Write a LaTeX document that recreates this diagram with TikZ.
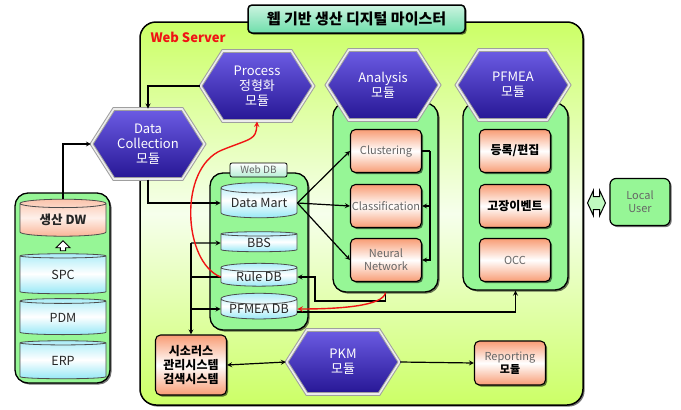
\documentclass[tikz,border=0pt]{standalone}
\usepackage{fontspec}
\setmainfont{Noto Sans CJK KR}
\usetikzlibrary{shapes.geometric,shapes.symbols,shapes.arrows,shadows}

\definecolor{limegr}{RGB}{204,255,102}
\definecolor{palegr}{RGB}{246,255,236}
\definecolor{boxgr}{RGB}{150,246,150}
\definecolor{salmon}{RGB}{248,156,116}
\definecolor{dbcyan}{RGB}{150,232,246}
\definecolor{hextop}{RGB}{108,92,228}
\definecolor{hexbot}{RGB}{38,22,148}
\definecolor{mint}{RGB}{110,222,170}
\definecolor{redline}{RGB}{240,20,20}

\tikzset{
  shad/.style={drop shadow={shadow xshift=1.6pt, shadow yshift=-1.6pt, fill=black, opacity=0.55}},
  hexmod/.style={signal, signal to=east and west, signal pointer angle=115,
    minimum width=113pt, minimum height=70pt, inner sep=0pt,
    top color=hextop, bottom color=hexbot,
    draw=gray!75, double=gray!15, double distance=1.6pt, line width=1pt,
    text=white, align=center, font=\fontsize{13}{15}\selectfont},
  modbox/.style={rectangle, rounded corners=5pt, draw=black, line width=1.1pt, shad,
    top color=salmon, bottom color=salmon, middle color=white,
    minimum width=71pt, minimum height=43pt, inner sep=1pt, align=center,
    text=black!60, font=\fontsize{11}{13}\selectfont},
  grpbox/.style={rectangle, rounded corners=13pt, draw=black, line width=1.3pt, shad,
    fill=boxgr, inner sep=0pt},
  dbcyl/.style={cylinder, shape border rotate=90, aspect=0.18, draw=black!70,
    line width=0.8pt, top color=dbcyan!80, bottom color=dbcyan, middle color=white,
    minimum width=76pt, inner sep=0pt, text=black!85,
    font=\fontsize{12.5}{14}\selectfont},
  dwcyl/.style={dbcyl, minimum width=86pt},
  conn/.style={->, line width=1.2pt},
  redconn/.style={->, line width=1.4pt, draw=redline},
}

\begin{document}
\begin{tikzpicture}[x=1pt, y=-1pt, >=stealth]
\useasboundingbox (0,0) rectangle (681,410);

% web server area
\node[rectangle, rounded corners=16pt, draw=black, line width=1.5pt, shad,
  top color=limegr, bottom color=limegr, middle color=palegr,
  minimum width=443pt, minimum height=383pt] (web) at (361.5,213.5) {};
\node[rectangle, rounded corners=4pt, draw=black, line width=1.5pt, shad,
  top color=mint!35, bottom color=mint, minimum width=217pt, minimum height=28pt,
  font=\fontsize{15}{17}\selectfont\bfseries] (title) at (356.5,19) {웹 기반 생산 디지털 마이스터};
\node[anchor=west, text=redline, font=\fontsize{13}{15}\selectfont\bfseries] (wslabel) at (147,37) {Web Server};

% production DW
\node[grpbox, minimum width=95pt, minimum height=190pt] (dwbox) at (62.5,288) {};
\node[dwcyl, minimum height=37pt, top color=salmon!60, bottom color=salmon!75,
  middle color=white!85!salmon, font=\fontsize{12.5}{14}\selectfont\bfseries] (dw) at (63,220) {생산 DW};
\node[single arrow, shape border rotate=90, draw=black, line width=0.9pt, fill=white,
  minimum height=10pt, minimum width=14pt, single arrow head extend=2.5pt, inner sep=1pt] (dwup) at (63,247) {};
\node[dwcyl, minimum height=40pt] (spc) at (63,275) {SPC};
\node[dwcyl, minimum height=36pt] (pdm) at (63,318) {PDM};
\node[dwcyl, minimum height=38pt] (erp) at (63,361) {ERP};

% groups
\node[grpbox, minimum width=105pt, minimum height=189pt] (anabox) at (385.5,197.5) {};
\node[grpbox, minimum width=105pt, minimum height=187pt] (pfmbox) at (515.5,196.5) {};
\node[grpbox, minimum width=98pt, minimum height=157pt] (webdb) at (259,251.5) {};
\node[rectangle, rounded corners=2pt, draw=black, line width=0.8pt,
  top color=white, bottom color=mint!50, minimum width=57pt, minimum height=14pt,
  inner sep=0pt, text=black!60, font=\fontsize{10}{12}\selectfont] (webdblabel) at (258.5,170) {Web DB};

% analysis boxes
\node[modbox] (clus) at (386,151) {Clustering};
\node[modbox] (clas) at (386,206) {Classification};
\node[modbox] (neur) at (386,260) {Neural\\Network};

% pfmea boxes
\node[modbox, text=black, font=\fontsize{12}{14}\selectfont\bfseries] (reg) at (515,151) {등록/편집};
\node[modbox, text=black, font=\fontsize{12}{14}\selectfont\bfseries] (fault) at (515,206) {고장이벤트};
\node[modbox] (occ) at (515,260) {OCC};

% web db
\node[dbcyl, minimum height=35pt] (dmart) at (259,203) {Data Mart};
\node[dbcyl, minimum height=20pt] (bbs) at (259,243) {BBS};
\node[dbcyl, minimum height=22pt] (ruledb) at (259,277) {Rule DB};
\node[dbcyl, minimum height=22pt] (pfmdb) at (259,309) {PFMEA DB};

% modules
\node[hexmod] (proc) at (257,86) {Process\\정형화\\모듈};
\node[hexmod] (dcol) at (148,144) {Data\\Collection\\모듈};
\node[hexmod] (ana) at (383,85) {Analysis\\모듈};
\node[hexmod] (pfm) at (513,85) {PFMEA\\모듈};
\node[hexmod, minimum height=64pt] (pkm) at (343,362) {PKM\\모듈};

\node[modbox, minimum height=60pt, text=black, font=\fontsize{12}{14}\selectfont\bfseries] (thes) at (191,365) {시소러스\\관리시스템\\검색시스템};
\node[modbox, minimum height=44pt] (rep) at (510,363) {Reporting\\\textcolor{black}{\bfseries 모듈}};

% local user
\node[rectangle, rounded corners=6pt, draw=black, line width=1.2pt, shad, fill=boxgr,
  minimum width=60pt, minimum height=47pt, align=center, text=black!60,
  font=\fontsize{11}{13}\selectfont] (luser) at (640,202) {Local\\User};
\node[double arrow, draw=black, line width=1pt, fill=boxgr!60,
  minimum height=18pt, inner xsep=0pt, inner ysep=6pt, double arrow head extend=6pt,
  double arrow tip angle=130] (lua) at (596.5,203) {};

% connectors
\draw[conn] (dw.north) |- (dcol.west);
\draw[conn] (proc.west) -| (dcol.north);
\draw[conn] (dcol.south) |- (dmart.west);
\draw[conn] (dmart.east) -- (clus.west);
\draw[conn] (dmart.east) -- (clas.west);
\draw[conn] (dmart.east) -- (neur.west);
\draw[line width=1.2pt] (clus.east) -- ++(8,0) coordinate (cr);
\draw[conn] (cr) |- (neur.east);
\draw[conn] (cr |- clas.east) -- (clas.east);
\draw[conn] (anabox.south) |- (315,301) |- (ruledb.east);
\draw[conn] ([yshift=-3pt]pfmdb.east) -| (pfmbox.south);
\coordinate (bus) at (191,243);
\draw[conn] (bus) -- (bbs.west);
\draw[line width=1.2pt] (bus |- ruledb.west) -- (ruledb.west);
\draw[conn] (bus |- pfmdb.west) -- (pfmdb.west);
\draw[conn] (bus) -- (thes.north);
\draw[conn, <->] (thes.east) -- (pkm.west);
\draw[conn] (pkm.east) -- (rep.west);
\draw[redconn] (ruledb.west) .. controls (183,262) and (178,168) .. (222,150)
  .. controls (252,138) and (256,140) .. (proc.south);
\draw[redconn] (anabox.south) .. controls (383,306) and (340,309) .. (pfmdb.east);
\end{tikzpicture}
\end{document}
